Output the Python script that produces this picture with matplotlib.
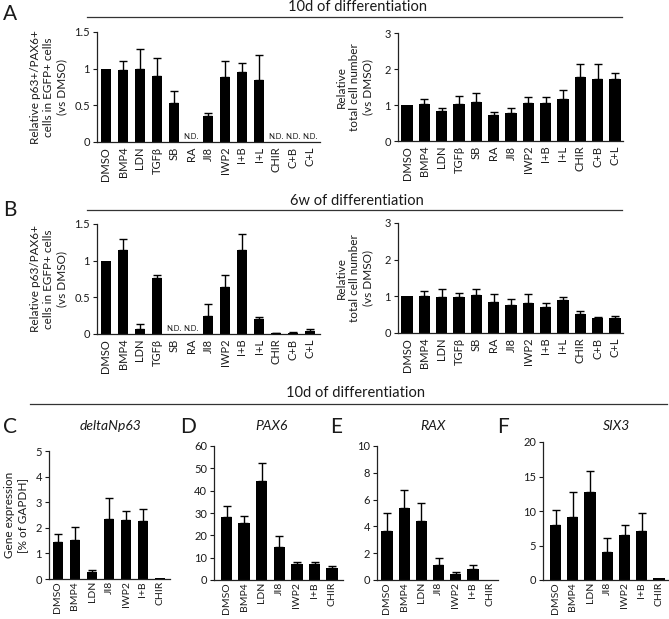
import numpy as np
import matplotlib
matplotlib.use("Agg")
import matplotlib.pyplot as plt

plt.rcParams['font.family'] = ['Lato', 'DejaVu Sans']
plt.rcParams['text.color'] = '#1a1a1a'
plt.rcParams['xtick.color'] = '#1a1a1a'
plt.rcParams['ytick.color'] = '#1a1a1a'
plt.rcParams['axes.labelcolor'] = '#1a1a1a'

W, H = 669, 619

treat13 = ["DMSO", "BMP4", "LDN", "TGFβ", "SB", "RA", "JI8", "IWP2", "I+B", "I+L", "CHIR", "C+B", "C+L"]
treat7 = ["DMSO", "BMP4", "LDN", "JI8", "IWP2", "I+B", "CHIR"]

ND = np.nan
# A: 10d, p63+/PAX6+ (relative)
a_frac = [1.00, 0.98, 1.00, 0.90, 0.53, ND, 0.35, 0.88, 0.95, 0.85, ND, ND, ND]
a_frac_err = [0.00, 0.13, 0.27, 0.24, 0.16, ND, 0.05, 0.23, 0.13, 0.33, ND, ND, ND]
# A: 10d, relative total cell number
a_cells = [1.00, 1.03, 0.82, 1.03, 1.09, 0.71, 0.78, 1.06, 1.06, 1.17, 1.79, 1.71, 1.71]
a_cells_err = [0.00, 0.15, 0.10, 0.23, 0.23, 0.09, 0.15, 0.17, 0.15, 0.25, 0.35, 0.43, 0.19]
# B: 6w, p63/PAX6+ (relative)
b_frac = [1.00, 1.14, 0.065, 0.77, ND, ND, 0.25, 0.64, 1.14, 0.20, 0.01, 0.02, 0.04]
b_frac_err = [0.00, 0.15, 0.065, 0.03, ND, ND, 0.16, 0.16, 0.23, 0.03, 0.005, 0.01, 0.035]
# B: 6w, relative total cell number
b_cells = [1.00, 1.00, 0.98, 0.98, 1.04, 0.85, 0.77, 0.82, 0.72, 0.90, 0.51, 0.40, 0.42]
b_cells_err = [0.00, 0.14, 0.23, 0.10, 0.15, 0.21, 0.16, 0.23, 0.10, 0.07, 0.09, 0.04, 0.05]
# C-F: 10d gene expression [% of GAPDH]
c_dnp63 = [1.46, 1.54, 0.29, 2.34, 2.29, 2.26, 0.02]
c_dnp63_err = [0.30, 0.48, 0.07, 0.83, 0.37, 0.49, 0.00]
d_pax6 = [28.4, 25.6, 44.4, 14.6, 7.0, 7.0, 5.2]
d_pax6_err = [4.9, 3.0, 7.9, 5.2, 0.9, 0.9, 1.1]
e_rax = [3.69, 5.40, 4.42, 1.15, 0.44, 0.79, 0.03]
e_rax_err = [1.30, 1.28, 1.30, 0.50, 0.18, 0.32, 0.00]
f_six3 = [7.9, 9.2, 12.8, 4.1, 6.5, 7.1, 0.25]
f_six3_err = [2.2, 3.6, 3.0, 2.0, 1.5, 2.6, 0.0]

fig = plt.figure(figsize=(W / 100, H / 100), dpi=100)
fig.patch.set_facecolor("white")


def px_axes(left, top, right, bottom):
    return fig.add_axes([left / W, 1 - bottom / H, (right - left) / W, (bottom - top) / H])


TICK_FS = 8


def bar_panel(rect, labels, vals, errs, ylim, yticks, yticklabels, first_px, step_px,
              ylabel=None, ylabel_pad=4, nd=False, xpad=3.5, ylabel_fs=8.5, xfs=TICK_FS):
    left, top, right, bottom = rect
    ax = px_axes(*rect)
    x = np.arange(len(labels))
    v = np.array(vals, dtype=float)
    e = np.array(errs, dtype=float)
    ax.bar(x, np.nan_to_num(v), width=0.64, color="black", zorder=2)
    mask = ~np.isnan(v) & (e > 0)
    ax.errorbar(x[mask], v[mask], yerr=[np.zeros(mask.sum()), e[mask]], fmt="none",
                ecolor="black", elinewidth=1.0, capsize=2.6, capthick=1.0, zorder=3)
    ax.set_xlim(-(first_px - left) / step_px, (right - first_px) / step_px)
    ax.set_ylim(*ylim)
    ax.set_yticks(yticks)
    ax.set_yticklabels(yticklabels, fontsize=TICK_FS)
    ax.set_xticks(x)
    ax.set_xticklabels(labels, rotation=90, fontsize=xfs)
    ax.tick_params(axis="x", length=0, pad=xpad)
    ax.tick_params(axis="y", length=3, width=0.8, pad=2, direction="out")
    for s in ("top", "right"):
        ax.spines[s].set_visible(False)
    for s in ("left", "bottom"):
        ax.spines[s].set_linewidth(0.9)
        ax.spines[s].set_color("#222222")
    if ylabel:
        ax.set_ylabel(ylabel, fontsize=ylabel_fs, labelpad=ylabel_pad, linespacing=1.25)
    if nd:
        for xi, vi in zip(x, v):
            if np.isnan(vi):
                ax.text(xi, ylim[1] * 0.015, "N.D.", ha="center", va="bottom", fontsize=5.5)
    return ax


lab_a = "Relative p63+/PAX6+\ncells in EGFP+ cells\n(vs DMSO)"
lab_b = "Relative p63/PAX6+\ncells in EGFP+ cells\n(vs DMSO)"
lab_cells = "Relative\ntotal cell number\n(vs DMSO)"

# Panel A
bar_panel((97, 32, 320, 142), treat13, a_frac, a_frac_err, (0, 1.5), [0, 0.5, 1, 1.5],
          ["0", "0.5", "1", "1.5"], 106, 17, ylabel=lab_a, ylabel_pad=5, nd=True)
bar_panel((398, 33, 623, 141), treat13, a_cells, a_cells_err, (0, 3), [0, 1, 2, 3],
          ["0", "1", "2", "3"], 407, 17.33, ylabel=lab_cells, ylabel_pad=8)
# Panel B
bar_panel((97, 224, 320, 334), treat13, b_frac, b_frac_err, (0, 1.5), [0, 0.5, 1, 1.5],
          ["0", "0.5", "1", "1.5"], 106, 17, ylabel=lab_b, ylabel_pad=5, nd=True)
bar_panel((398, 223, 623, 333), treat13, b_cells, b_cells_err, (0, 3), [0, 1, 2, 3],
          ["0", "1", "2", "3"], 407, 17.33, ylabel=lab_cells, ylabel_pad=8)
# Panels C-F
bar_panel((49, 451, 170, 579), treat7, c_dnp63, c_dnp63_err, (0, 5), [0, 1, 2, 3, 4, 5],
          ["0", "1", "2", "3", "4", "5"], 58, 17,
          ylabel="Gene expression\n[% of GAPDH]", ylabel_pad=5, xpad=1.5, xfs=7.5)
bar_panel((214, 446, 343, 580), treat7, d_pax6, d_pax6_err, (0, 60), [0, 10, 20, 30, 40, 50, 60],
          ["0", "10", "20", "30", "40", "50", "60"], 226.5, 17.6, xpad=1.5, xfs=7.5)
bar_panel((377, 446, 498, 580), treat7, e_rax, e_rax_err, (0, 10), [0, 2, 4, 6, 8, 10],
          ["0", "2", "4", "6", "8", "10"], 387, 17.2, xpad=1.5, xfs=7.5)
bar_panel((543, 442, 668, 580), treat7, f_six3, f_six3_err, (0, 20), [0, 5, 10, 15, 20],
          ["0", "5", "10", "15", "20"], 555.5, 17.25, xpad=1.5, xfs=7.5)


def ftext(xp, yp, s, **kw):
    fig.text(xp / W, 1 - yp / H, s, **kw)


def hline(x0, x1, yp):
    fig.add_artist(plt.Line2D([x0 / W, x1 / W], [1 - yp / H, 1 - yp / H],
                              color="#333333", lw=0.9, transform=fig.transFigure))


# Section headers
ftext(357, 7, "10d of differentiation", ha="center", va="center", fontsize=10.5)
hline(87, 622, 17)
ftext(357, 201, "6w of differentiation", ha="center", va="center", fontsize=10.5)
hline(87, 622, 210)
ftext(355, 393, "10d of differentiation", ha="center", va="center", fontsize=10.5)
hline(30, 667, 404)

# Panel letters
for xp, yp, s in [(3, 14, "A"), (3, 210, "B"), (3, 427, "C"), (180, 427, "D"),
                  (330, 427, "E"), (497, 427, "F")]:
    ftext(xp, yp, s, ha="left", va="center", fontsize=15)

# Gene titles
for xp, s in [(110, "deltaNp63"), (272, "PAX6"), (433, "RAX"), (617, "SIX3")]:
    ftext(xp, 426, s, ha="center", va="center", fontsize=10, style="italic")

fig.savefig("out.png", dpi=100, facecolor="white")
